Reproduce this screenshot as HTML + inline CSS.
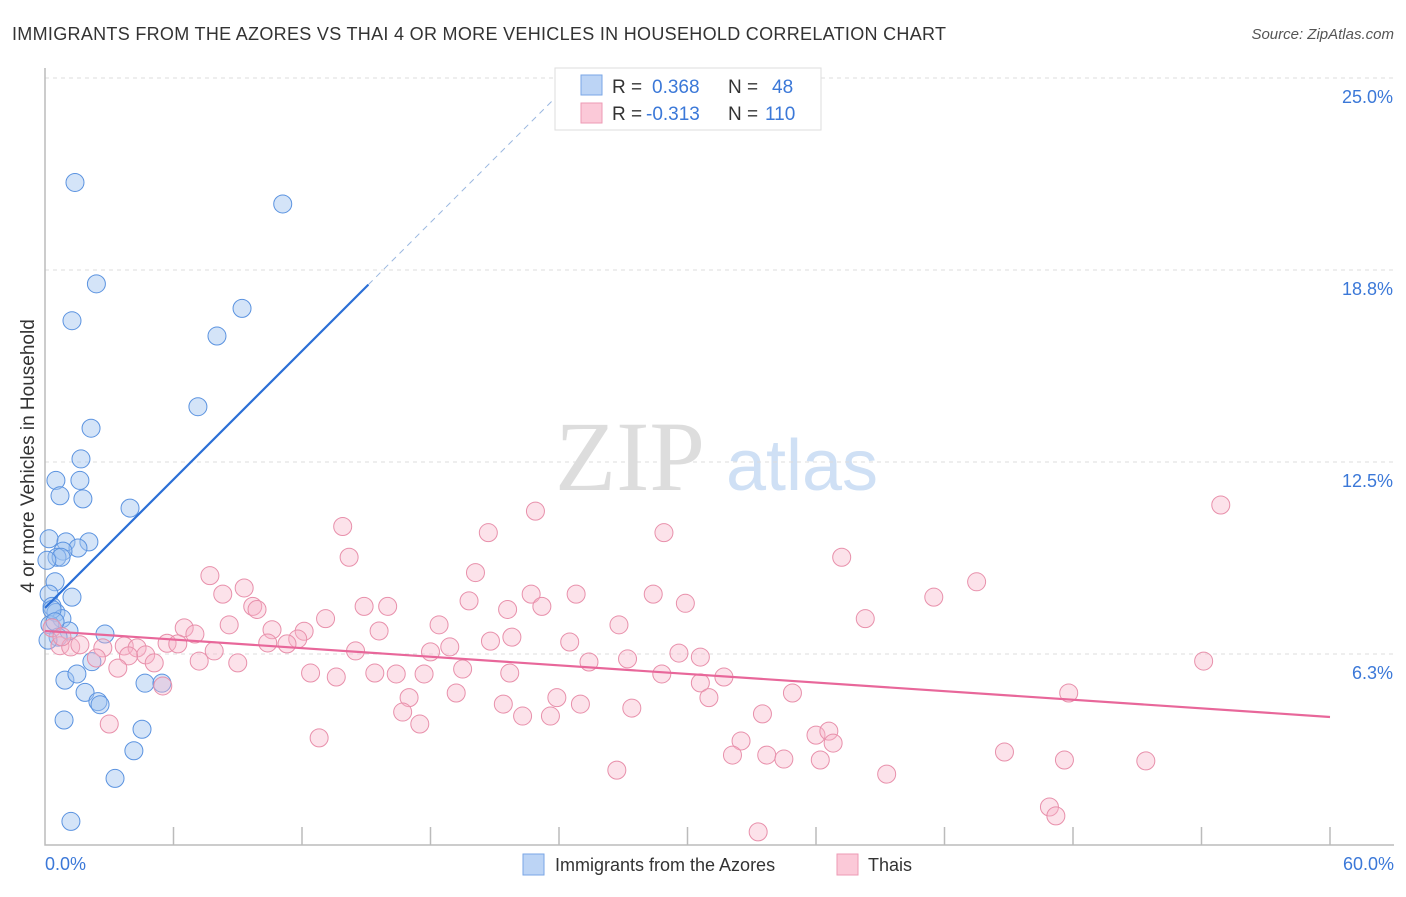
<!DOCTYPE html>
<html><head><meta charset="utf-8"><style>
body{margin:0;background:#fff;font-family:"Liberation Sans",sans-serif}
#wrap{position:relative;width:1406px;height:892px}
</style></head><body>
<div id="wrap">
<svg id="svg" width="1406" height="892" xmlns="http://www.w3.org/2000/svg">
<text x="12" y="40" font-size="18" fill="#333" textLength="934">IMMIGRANTS FROM THE AZORES VS THAI 4 OR MORE VEHICLES IN HOUSEHOLD CORRELATION CHART</text>
<text x="1394" y="39" font-size="15" fill="#555" font-style="italic" text-anchor="end">Source: ZipAtlas.com</text>
<text x="630" y="490" font-size="100" fill="#ddd" font-family="Liberation Serif,serif" text-anchor="middle">ZIP</text>
<text x="802" y="490" font-size="72" fill="#cfe0f5" text-anchor="middle">atlas</text>
<g id="grid"></g><g id="marks"></g>
<text transform="translate(34,456) rotate(-90)" font-size="19" fill="#333" text-anchor="middle">4 or more Vehicles in Household</text>
<text x="45" y="870" font-size="18" fill="#3b78d8">0.0%</text>
<text x="1394" y="870" font-size="18" fill="#3b78d8" text-anchor="end">60.0%</text>
<g>
<rect x="523" y="854" width="21" height="21" fill="#bcd4f5" stroke="#7aa6e6"/>
<text x="555" y="871" font-size="18" fill="#333">Immigrants from the Azores</text>
<rect x="837" y="854" width="21" height="21" fill="#fbc9d8" stroke="#ee9ab4"/>
<text x="868" y="871" font-size="18" fill="#333">Thais</text>
</g>
<g>
<rect x="555" y="68" width="266" height="62" fill="#fff" stroke="#ddd"/>
<rect x="581" y="75" width="21" height="20" fill="#bcd4f5" stroke="#7aa6e6"/>
<rect x="581" y="103" width="21" height="20" fill="#fbc9d8" stroke="#ee9ab4"/>
<text x="612" y="93" font-size="19" fill="#333">R = <tspan fill="#3b78d8" x="652">0.368</tspan><tspan x="728">N = </tspan><tspan fill="#3b78d8" x="772">48</tspan></text>
<text x="612" y="120" font-size="19" fill="#333">R = <tspan fill="#3b78d8" x="646">-0.313</tspan><tspan x="728">N = </tspan><tspan fill="#3b78d8" x="765">110</tspan></text>
</g>
</svg>
</div>
<script>
const yTicks=[6.3,12.5,18.8,25.0];
const blueX=[1.4,11.1,2.4,9.2,1.26,8.03,7.14,2.15,1.68,0.51,1.63,0.7,1.77,3.97,0.19,0.98,2.05,1.54,0.84,0.56,0.75,0.09,0.47,0.19,1.26,0.33,0.51,0.79,0.23,1.12,2.8,0.61,2.19,0.93,1.49,1.87,2.47,2.57,4.67,5.46,0.89,4.53,4.15,3.27,1.21,0.33,0.14,0.47];
const blueY=[21.6,20.9,18.3,17.5,17.1,16.6,14.3,13.6,12.6,11.9,11.9,11.4,11.3,11.0,10.0,9.9,9.9,9.7,9.6,9.4,9.4,9.3,8.6,8.2,8.1,7.8,7.6,7.4,7.2,7.0,6.9,6.8,6.0,5.4,5.6,5.0,4.7,4.6,5.3,5.3,4.1,3.8,3.1,2.2,0.8,7.7,6.7,7.3];
const pinkX=[54.9,22.9,13.9,20.7,28.9,14.2,37.2,20.1,7.7,43.5,9.3,8.3,24.8,28.4,41.5,19.8,22.7,9.7,9.9,14.9,16.0,21.6,23.2,29.9,13.1,38.3,18.4,26.8,8.6,6.5,15.6,12.1,10.6,7.0,11.8,21.8,20.8,24.5,5.7,6.2,3.7,2.7,4.3,10.4,11.3,18.9,18.0,14.5,7.9,4.7,29.6,3.9,2.4,30.6,54.1,25.4,27.2,19.5,9.0,7.2,5.1,3.4,12.4,13.6,15.4,16.4,17.7,21.7,28.8,30.6,31.7,5.5,19.2,17.0,23.9,25.0,21.4,31.0,34.9,47.8,27.4,16.7,22.3,23.6,33.5,3.0,17.5,12.8,32.5,36.0,36.6,36.8,32.1,33.7,34.5,36.2,44.8,47.6,51.4,26.7,39.3,46.9,47.2,33.3,0.7,1.2,0.33,0.79,1.63];
const pinkY=[11.1,10.9,10.4,10.2,10.2,9.4,9.4,8.9,8.8,8.6,8.4,8.2,8.2,8.2,8.1,7.98,8.2,7.8,7.7,7.8,7.8,7.7,7.8,7.9,7.4,7.4,7.2,7.2,7.2,7.1,7.0,6.99,7.04,6.9,6.74,6.8,6.67,6.64,6.6,6.58,6.51,6.45,6.45,6.61,6.58,6.48,6.32,6.35,6.35,6.22,6.28,6.19,6.12,6.15,6.02,5.99,6.09,5.76,5.96,6.02,5.96,5.79,5.63,5.5,5.63,5.6,5.6,5.63,5.6,5.31,5.5,5.21,4.98,4.83,4.83,4.62,4.62,4.83,4.98,4.98,4.49,4.36,4.23,4.23,4.3,3.97,3.97,3.52,3.42,3.61,3.74,3.35,2.96,2.96,2.83,2.8,3.06,2.8,2.77,2.47,2.34,1.27,0.98,0.46,6.52,6.48,7.1,6.81,6.55];
const blueLine=[0,7.75,0.697];
const pinkLine=[7.0,4.2];
const L=45,R=1330,T=78,B=846;
const sx=v=>L+v/60*(R-L);
const sy=v=>B-v*(B-T)/25;
const NS='http://www.w3.org/2000/svg';
function mk(tag,attrs,parent){const e=document.createElementNS(NS,tag);for(const k in attrs)e.setAttribute(k,attrs[k]);parent.appendChild(e);return e;}
const grid=document.getElementById('grid'),marks=document.getElementById('marks');
yTicks.forEach(t=>{const y=sy(t===6.3?6.25:t===18.8?18.75:t);
 const g=mk('line',{x1:L,x2:1394,y1:y,y2:y,stroke:'#ddd','stroke-dasharray':'4,4'},grid);
 
 
 const tx=mk('text',{x:1393,y:y+25,'font-size':18,fill:'#3b78d8','text-anchor':'end'},grid);
 tx.textContent=t.toFixed(1)+'%';
 
 
});
const ax=mk('path',{d:`M${L} 68 V845 H1394`,fill:'none',stroke:'#bbb','stroke-width':1.5},grid);


for(let i=1;i<=10;i++){const x=sx(i*6);
 const tk=mk('line',{x1:x,x2:x,y1:827,y2:845,stroke:'#bbb','stroke-width':1.5},grid);
 
 }
blueX.forEach((x,i)=>{const c=mk('circle',{cx:sx(x),cy:sy(blueY[i]),r:9,fill:'rgba(160,196,240,0.45)',stroke:'#5b93e0','stroke-width':1},marks);
 
 });
pinkX.forEach((x,i)=>{const c=mk('circle',{cx:sx(x),cy:sy(pinkY[i]),r:9,fill:'rgba(248,180,200,0.38)',stroke:'#e890ab','stroke-width':1},marks);
 
 });
const bl=v=>blueLine[1]+blueLine[2]*v;
let l1=mk('line',{x1:sx(0),y1:sy(bl(0)),x2:sx(15.1),y2:sy(bl(15.1)),stroke:'#2b6fd6','stroke-width':2.2},marks);


let xe=(25.1-blueLine[1])/blueLine[2];
let l2=mk('line',{x1:sx(15.1),y1:sy(bl(15.1)),x2:sx(xe),y2:sy(bl(xe)),stroke:'#9bb8e0','stroke-width':1,'stroke-dasharray':'6,5'},marks);


let l3=mk('line',{x1:sx(0),y1:sy(pinkLine[0]),x2:sx(60),y2:sy(pinkLine[1]),stroke:'#e8679a','stroke-width':2.2},marks);


</script>
</body></html>
